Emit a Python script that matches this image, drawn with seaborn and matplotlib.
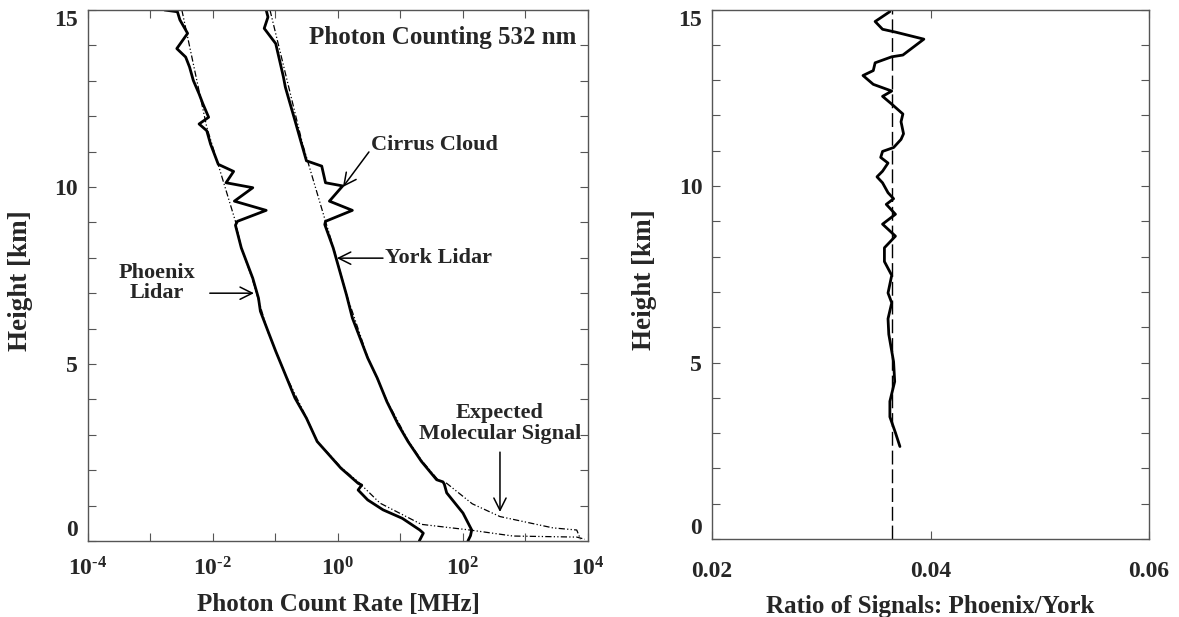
import matplotlib
matplotlib.use("Agg")
import matplotlib.pyplot as plt
import numpy as np
import pandas as pd
import seaborn as sns
from matplotlib.ticker import FixedLocator, FuncFormatter, MultipleLocator, NullFormatter

# --- data ---
# Phoenix lidar photon count rate [MHz] vs height [km]
phoenix_rate = [0.00168, 0.0027, 0.00296, 0.00393, 0.00264, 0.00366, 0.00422, 0.00485,
                0.00600, 0.00690, 0.00853, 0.00600, 0.00796, 0.00916, 0.01054, 0.01216,
                0.0214, 0.0162, 0.0434, 0.0220, 0.0710, 0.0246, 0.0229, 0.0284, 0.0434,
                0.0535, 0.0574, 0.0762, 0.101, 0.144, 0.205, 0.313, 0.465, 0.723, 1.11,
                2.10, 2.4, 2.10, 2.99, 5.26, 10.7, 20.4, 23.2, 20.0]
phoenix_h = [15.0, 14.95, 14.72, 14.34, 13.91, 13.67, 13.39, 13.01,
             12.63, 12.35, 11.97, 11.78, 11.59, 11.21, 10.93, 10.64,
             10.44, 10.12, 9.98, 9.60, 9.34, 9.03, 8.92, 8.28, 7.42,
             6.86, 6.49, 5.92, 5.36, 4.70, 4.04, 3.47, 2.81, 2.43, 2.06,
             1.63, 1.58, 1.44, 1.16, 0.88, 0.64, 0.31, 0.22, 0.0]

# York lidar photon count rate [MHz] vs height [km]
york_rate = [0.0710, 0.0759, 0.0661, 0.101, 0.134, 0.144, 0.166, 0.205, 0.253, 0.313,
             0.550, 0.632, 1.19, 0.730, 1.70, 0.632, 0.615, 0.839, 1.11, 1.37, 1.70,
             2.25, 2.99, 4.26, 6.05, 9.25, 13.2, 21.6, 37.9, 47.9, 50.4, 54.9, 100, 138,
             132, 120]
york_h = [15.0, 14.8, 14.48, 14.05, 13.11, 12.82, 12.44, 11.88, 11.31, 10.74,
          10.59, 10.12, 10.03, 9.60, 9.34, 9.03, 8.94, 8.28, 7.52, 6.95, 6.30,
          5.74, 5.17, 4.60, 3.94, 3.28, 2.81, 2.25, 1.73, 1.67, 1.60, 1.36, 0.79, 0.31,
          0.15, 0.0]

# expected molecular signals
mol_phoenix_rate = [0.00318, 0.00796, 0.0140, 0.0229, 0.0282, 0.0427, 0.0537, 0.0759,
                    0.1445, 0.316, 0.468, 0.741, 1.15, 2.14, 4.70, 21.6, 129, 631, 6600, 8900]
mol_phoenix_h = [15.0, 11.69, 10.27, 9.03, 8.30, 7.40, 6.80, 5.90,
                 4.70, 3.47, 2.81, 2.43, 2.06, 1.66, 1.07, 0.47, 0.31, 0.14, 0.11, 0.05]

mol_york_rate = [0.0817, 0.272, 0.632, 0.85, 1.12, 1.38, 3.02, 6.17, 13.5, 22.4, 39.8,
                 54.8, 141, 391, 2754, 6607, 7586]
mol_york_h = [15.0, 11.21, 9.03, 8.28, 7.52, 6.95, 5.17, 3.94, 2.81, 2.25, 1.73,
              1.63, 1.05, 0.69, 0.37, 0.31, 0.05]

# ratio Phoenix/York vs height
ratio = [0.03628, 0.03493, 0.03561, 0.03679, 0.03939, 0.03747, 0.03645, 0.03493, 0.03476,
         0.03382, 0.03476, 0.03645, 0.03561, 0.03645, 0.03747, 0.03730, 0.03753, 0.03730,
         0.03662, 0.03561, 0.03544, 0.03611, 0.03561, 0.03510, 0.03561, 0.03611, 0.03662,
         0.03595, 0.03679, 0.03561, 0.03679, 0.03578, 0.03578, 0.03645, 0.03611, 0.03645,
         0.03611, 0.03618, 0.03662, 0.03672, 0.03628, 0.03628, 0.03679, 0.03720]
ratio_h = [14.94, 14.66, 14.44, 14.36, 14.16, 13.71, 13.66, 13.49, 13.27,
           13.13, 12.88, 12.69, 12.54, 12.32, 12.04, 11.82, 11.48, 11.32,
           11.09, 10.98, 10.81, 10.65, 10.42, 10.26, 10.09, 9.81, 9.64,
           9.48, 9.20, 8.92, 8.58, 8.25, 7.86, 7.47, 6.97, 6.69,
           6.24, 5.80, 5.02, 4.46, 3.90, 3.46, 3.01, 2.62]
ratio_mean = 0.0365

# --- style ---
sns.set_theme(style="ticks")
plt.rcParams["font.family"] = ["Liberation Serif", "DejaVu Serif"]
plt.rcParams["font.weight"] = "bold"
plt.rcParams["axes.labelweight"] = "bold"
plt.rcParams["mathtext.fontset"] = "custom"
plt.rcParams["mathtext.rm"] = "Liberation Serif:bold"
plt.rcParams["mathtext.default"] = "rm"

edge = "#555555"
fig = plt.figure(figsize=(11.79, 6.17), dpi=100)
ax1 = fig.add_axes([0.0746, 0.1232, 0.4241, 0.8606])
ax2 = fig.add_axes([0.6039, 0.1264, 0.3707, 0.8582])

# --- left panel: photon count rates ---
ax1.set_xscale("log")
for r, h in [(mol_phoenix_rate, mol_phoenix_h), (mol_york_rate, mol_york_h)]:
    sns.lineplot(x=r, y=h, sort=False, estimator=None, ax=ax1, color="black",
                 linewidth=0.9, dashes=False)
for line in ax1.get_lines():
    line.set_dashes((5, 1.8, 1, 1.8, 1, 1.8))
for r, h in [(phoenix_rate, phoenix_h), (york_rate, york_h)]:
    sns.lineplot(x=r, y=h, sort=False, estimator=None, ax=ax1, color="black", linewidth=2.0)

ax1.set_xlim(1e-4, 1e4)
ax1.set_ylim(0, 15)
ax1.xaxis.set_major_locator(FixedLocator([1e-4, 1e-2, 1e0, 1e2, 1e4]))
ax1.xaxis.set_minor_locator(FixedLocator([1e-3, 1e-1, 1e1, 1e3]))
ax1.xaxis.set_major_formatter(
    FuncFormatter(lambda v, p: r"$10^{\text{%d}}$" % int(round(np.log10(v)))))
ax1.xaxis.set_minor_formatter(NullFormatter())
ax1.set_xlabel("Photon Count Rate [MHz]", fontsize=18, labelpad=9)
ax1.set_ylabel("Height [km]", fontsize=19.5)
ax1.yaxis.set_label_coords(-0.11, 0.49)

ax1.text(0.976, 0.949, "Photon Counting 532 nm", transform=ax1.transAxes,
         ha="right", va="center", fontsize=18, fontweight="bold")

# annotation texts
ax1.text(3.37, 11.19, "Cirrus Cloud", fontsize=16, ha="left", va="center")
ax1.text(5.65, 7.99, "York Lidar", fontsize=16, ha="left", va="center")
ax1.text(0.00127, 7.29, "Phoenix\nLidar", fontsize=16, ha="center", va="center",
         linespacing=1.05)
ax1.text(391, 3.31, "Expected\nMolecular Signal", fontsize=16, ha="center", va="center",
         linespacing=1.05)

# annotation arrows
arrow = dict(arrowstyle="->", color="black", lw=1.1, mutation_scale=22, shrinkA=0, shrinkB=0)
for tip, tail in [((1.2, 10.0), (3.13, 10.99)),
                  ((0.96, 7.99), (5.25, 7.99)),
                  ((0.0453, 7.0), (0.0089, 7.0)),
                  ((391, 0.82), (391, 2.51))]:
    ax1.annotate("", xy=tip, xytext=tail, arrowprops=arrow)

# --- right panel: ratio ---
ax2.axvline(ratio_mean, ymin=0, ymax=1, color="black", linewidth=1.0, dashes=(10, 3.5))
sns.lineplot(x=ratio, y=ratio_h, sort=False, estimator=None, ax=ax2, color="black", linewidth=2.0)
ax2.set_xlim(0.02, 0.06)
ax2.set_ylim(0, 15)
ax2.xaxis.set_major_locator(FixedLocator([0.02, 0.04, 0.06]))
ax2.xaxis.set_major_formatter(FuncFormatter(lambda v, p: f"{v:.2f}"))
ax2.set_xlabel("Ratio of Signals: Phoenix/York", fontsize=18, labelpad=10)
ax2.set_ylabel("Height [km]", fontsize=19.5)
ax2.yaxis.set_label_coords(-0.126, 0.49)

for ax, xpad in [(ax1, 12), (ax2, 15.5)]:
    ax.yaxis.set_major_locator(MultipleLocator(5))
    ax.yaxis.set_minor_locator(MultipleLocator(1))
    ax.tick_params(which="both", direction="in", top=True, right=True,
                   length=6, width=0.8, color=edge, labelsize=17)
    ax.tick_params(axis="x", pad=xpad)
    ax.tick_params(axis="y", pad=7)
    for s in ax.spines.values():
        s.set_color(edge)
        s.set_linewidth(1.0)
    for lab in ax.get_xticklabels() + ax.get_yticklabels():
        lab.set_fontweight("bold")
    # end labels are kept inside the axis range, like the original
    for tick, val in zip(ax.yaxis.get_major_ticks(), ax.get_yticks()):
        if np.isclose(val, 0):
            tick.label1.set_va("bottom")
        elif np.isclose(val, 15):
            tick.label1.set_va("top")

fig.savefig("out.png", dpi=100)
